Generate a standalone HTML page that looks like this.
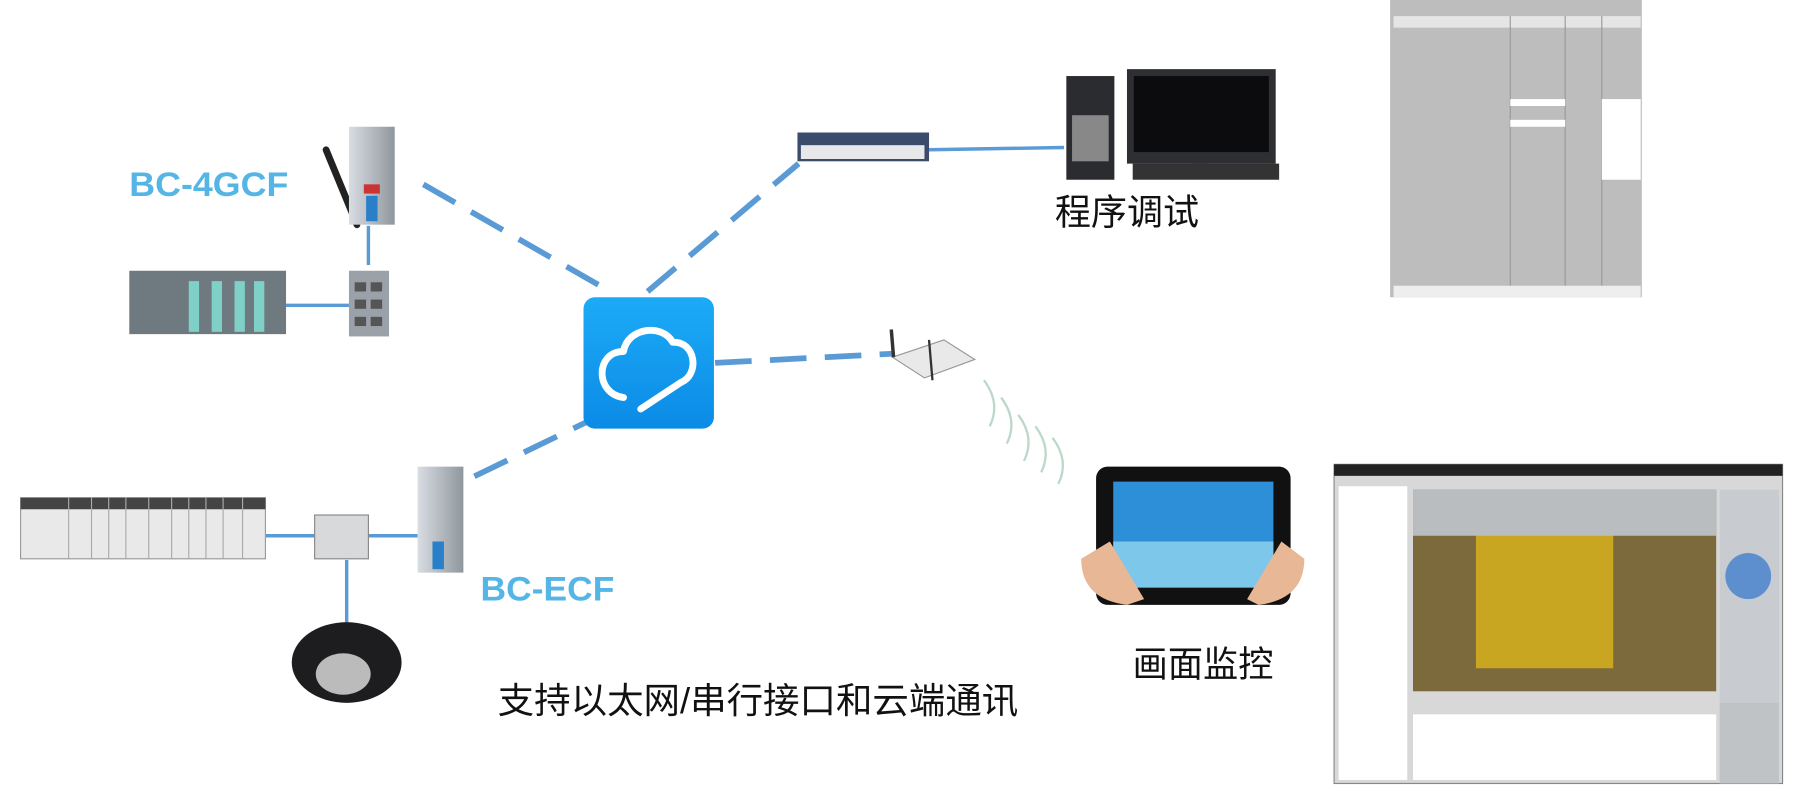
<!DOCTYPE html>
<html><head><meta charset="utf-8"><style>
html,body{margin:0;padding:0;background:#fff;overflow:hidden}
svg{display:block}
</style></head><body>
<svg width="1794" height="795" viewBox="0 0 1568 690" preserveAspectRatio="none" xmlns="http://www.w3.org/2000/svg" font-family="'Liberation Sans','Noto Sans CJK SC',sans-serif">
<defs>
<linearGradient id="cg" x1="0" y1="0" x2="0" y2="1"><stop offset="0" stop-color="#1cabf7"/><stop offset="1" stop-color="#0b8be6"/></linearGradient>
<linearGradient id="dev" x1="0" y1="0" x2="1" y2="0"><stop offset="0" stop-color="#d8dde2"/><stop offset="1" stop-color="#8f979e"/></linearGradient>
</defs>
<g stroke="#5b9bd5" stroke-width="5" fill="none">
<line x1="370" y1="160" x2="528" y2="250" stroke-dasharray="32,16"/>
<line x1="566" y1="253" x2="698" y2="142" stroke-dasharray="32,16"/>
<line x1="625" y1="315" x2="780" y2="307" stroke-dasharray="32,16"/>
<line x1="530" y1="358" x2="405" y2="418" stroke-dasharray="32,16"/>
<line x1="812" y1="130" x2="930" y2="128" stroke-width="3"/>
<line x1="322" y1="196" x2="322" y2="230" stroke-width="3"/>
<line x1="250" y1="265" x2="305" y2="265" stroke-width="3"/>
<line x1="232" y1="465" x2="275" y2="465" stroke-width="3"/>
<line x1="322" y1="465" x2="365" y2="465" stroke-width="3"/>
<line x1="303" y1="486" x2="303" y2="540" stroke-width="3"/>
</g>
<rect x="510" y="258" width="114" height="114" rx="10" fill="url(#cg)"/>
<path d="M545 345 C520 342 520 305 545 305 C548 285 578 280 588 297 C608 296 612 325 595 332 L560 355" stroke="#fff" stroke-width="6" fill="none" stroke-linecap="round" stroke-linejoin="round"/>
<line x1="285" y1="130" x2="312" y2="195" stroke="#222" stroke-width="6" stroke-linecap="round"/>
<rect x="305" y="110" width="40" height="85" fill="url(#dev)"/>
<rect x="320" y="170" width="10" height="22" fill="#2a7fc9"/>
<rect x="318" y="160" width="14" height="8" fill="#c33"/>
<rect x="305" y="235" width="35" height="57" fill="#9aa1a8"/>
<g fill="#555"><rect x="310" y="245" width="10" height="8"/><rect x="324" y="245" width="10" height="8"/><rect x="310" y="260" width="10" height="8"/><rect x="324" y="260" width="10" height="8"/><rect x="310" y="275" width="10" height="8"/><rect x="324" y="275" width="10" height="8"/></g>
<rect x="113" y="235" width="137" height="55" fill="#6f7a80"/>
<g fill="#7fd1c8"><rect x="165" y="244" width="9" height="44"/><rect x="185" y="244" width="9" height="44"/><rect x="205" y="244" width="9" height="44"/><rect x="222" y="244" width="9" height="44"/></g>
<text x="113" y="170" font-size="30" font-weight="bold" fill="#55b6e5" textLength="139" lengthAdjust="spacingAndGlyphs">BC-4GCF</text>
<rect x="697" y="115" width="115" height="25" fill="#3a4b6c"/>
<rect x="700" y="126" width="108" height="12" fill="#e8e8ea"/>
<rect x="932" y="66" width="42" height="90" fill="#2a2c30"/><rect x="937" y="100" width="32" height="40" fill="#888"/>
<rect x="985" y="60" width="130" height="82" fill="#2d2f33"/><rect x="991" y="66" width="118" height="66" fill="#0c0c0e"/>
<rect x="1043" y="142" width="12" height="10" fill="#555"/>
<rect x="990" y="142" width="128" height="14" fill="#333"/>
<text x="922" y="195" font-size="31" fill="#111" textLength="126" lengthAdjust="spacingAndGlyphs">程序调试</text>
<rect x="1215" y="0" width="220" height="258" fill="#bdbdbd"/>
<rect x="1218" y="14" width="216" height="10" fill="#e5e5e5"/>
<g stroke="#999" stroke-width="1"><line x1="1320" y1="14" x2="1320" y2="248"/><line x1="1368" y1="14" x2="1368" y2="248"/><line x1="1400" y1="14" x2="1400" y2="248"/></g>
<g fill="#fff"><rect x="1400" y="86" width="34" height="70"/><rect x="1320" y="86" width="48" height="6"/><rect x="1320" y="104" width="48" height="6"/></g>
<rect x="1218" y="248" width="216" height="10" fill="#eee"/>
<path d="M780 310 L825 295 L852 312 L808 328 Z" fill="#e9e9e9" stroke="#999"/>
<line x1="779" y1="286" x2="781" y2="310" stroke="#333" stroke-width="3"/>
<line x1="812" y1="295" x2="815" y2="330" stroke="#333" stroke-width="2"/>
<g fill="none" stroke="#bcd8c8" stroke-width="2">
<path d="M860 330 q15 20 5 40"/><path d="M875 345 q15 20 5 40"/><path d="M890 360 q15 20 5 40"/><path d="M905 370 q15 20 5 40"/><path d="M920 380 q15 20 5 40"/>
</g>
<rect x="958" y="405" width="170" height="120" rx="10" fill="#111"/>
<rect x="973" y="418" width="140" height="92" fill="#2c8fd8"/>
<rect x="973" y="470" width="140" height="40" fill="#7cc7ea"/>
<path d="M945 485 q0 35 40 40 L1000 520 L970 470 Z" fill="#e8b896"/>
<path d="M1140 485 q0 35 -40 40 L1090 520 L1120 470 Z" fill="#e8b896"/>
<text x="990" y="587" font-size="31" fill="#111" textLength="123" lengthAdjust="spacingAndGlyphs">画面监控</text>
<rect x="1166" y="403" width="392" height="277" fill="#d8d8d8" stroke="#888"/>
<rect x="1166" y="403" width="392" height="10" fill="#222"/>
<rect x="1170" y="422" width="60" height="255" fill="#fff"/>
<rect x="1235" y="425" width="265" height="175" fill="#7d6a3c"/>
<rect x="1290" y="460" width="120" height="120" fill="#c9a622"/>
<rect x="1235" y="425" width="265" height="40" fill="#b9bdc0"/>
<rect x="1235" y="620" width="265" height="57" fill="#fff"/>
<rect x="1503" y="425" width="52" height="185" fill="#c8ccd0"/>
<circle cx="1528" cy="500" r="20" fill="#5d8fcf"/>
<rect x="1503" y="610" width="52" height="70" fill="#bfc3c6"/>
<rect x="365" y="405" width="40" height="92" fill="url(#dev)"/>
<rect x="378" y="470" width="10" height="24" fill="#2a7fc9"/>
<text x="420" y="521" font-size="30" font-weight="bold" fill="#55b6e5" textLength="117" lengthAdjust="spacingAndGlyphs">BC-ECF</text>
<rect x="18" y="432" width="214" height="53" fill="#e9e9ea" stroke="#999"/>
<rect x="18" y="432" width="214" height="10" fill="#444"/>
<g stroke="#aaa"><line x1="60" y1="432" x2="60" y2="485"/><line x1="80" y1="432" x2="80" y2="485"/><line x1="95" y1="432" x2="95" y2="485"/><line x1="110" y1="432" x2="110" y2="485"/><line x1="130" y1="432" x2="130" y2="485"/><line x1="150" y1="432" x2="150" y2="485"/><line x1="165" y1="432" x2="165" y2="485"/><line x1="180" y1="432" x2="180" y2="485"/><line x1="195" y1="432" x2="195" y2="485"/><line x1="212" y1="432" x2="212" y2="485"/></g>
<rect x="275" y="447" width="47" height="38" fill="#d7d9db" stroke="#888"/>
<ellipse cx="303" cy="575" rx="48" ry="35" fill="#1d1d1f"/>
<ellipse cx="300" cy="585" rx="24" ry="18" fill="#bbb"/>
<text x="435" y="619" font-size="31" fill="#111" textLength="455" lengthAdjust="spacingAndGlyphs">支持以太网/串行接口和云端通讯</text>
</svg>
</body></html>
